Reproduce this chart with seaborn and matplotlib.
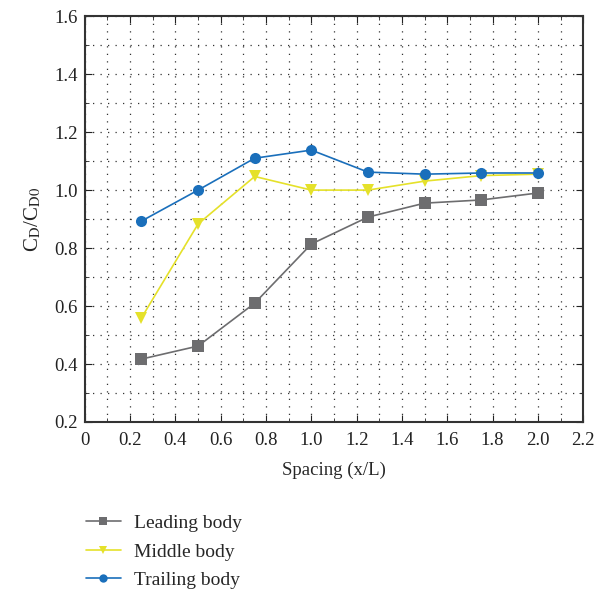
import numpy as np
import pandas as pd
import matplotlib
matplotlib.use("Agg")
import matplotlib.pyplot as plt
import seaborn as sns
from matplotlib.ticker import MultipleLocator, FuncFormatter
from matplotlib.lines import Line2D

spacing = [0.25, 0.5, 0.75, 1.0, 1.25, 1.5, 1.75, 2.0]
leading = [0.417, 0.462, 0.61, 0.814, 0.907, 0.955, 0.966, 0.99]
middle = [0.559, 0.883, 1.047, 1.0, 1.0, 1.031, 1.05, 1.055]
trailing = [0.893, 1.0, 1.11, 1.138, 1.062, 1.055, 1.059, 1.059]
series_names = ["Leading body", "Middle body", "Trailing body"]

df = pd.DataFrame({
    "x": spacing * 3,
    "y": leading + middle + trailing,
    "series": [n for n in series_names for _ in spacing],
})

sns.set_style("ticks")
plt.rcParams["font.family"] = ["Liberation Serif", "DejaVu Serif"]
plt.rcParams["mathtext.fontset"] = "stix"

colors = {"Leading body": "#6d6d6f", "Middle body": "#e5e12a", "Trailing body": "#1a6fbb"}
markers = {"Leading body": "s", "Middle body": "v", "Trailing body": "o"}

fig = plt.figure(figsize=(5.97, 5.99), dpi=100)
ax = fig.add_axes([0.142, 0.2955, 0.835, 0.6775])

sns.lineplot(data=df, x="x", y="y", hue="series", style="series",
             palette=colors, markers=markers, dashes=False, ax=ax,
             linewidth=1.2, markersize=8, markeredgewidth=0, legend=False)

ax.set_xlim(0, 2.2)
ax.set_ylim(0.2, 1.6)
ax.xaxis.set_major_locator(MultipleLocator(0.2))
ax.xaxis.set_minor_locator(MultipleLocator(0.1))
ax.yaxis.set_major_locator(MultipleLocator(0.2))
ax.yaxis.set_minor_locator(MultipleLocator(0.1))
ax.xaxis.set_major_formatter(FuncFormatter(lambda v, p: "0" if abs(v) < 1e-9 else f"{v:.1f}"))
ax.yaxis.set_major_formatter(FuncFormatter(lambda v, p: f"{v:.1f}"))
ax.grid(which="both", linestyle=(0, (1, 5)), color="#333333", linewidth=0.9)
ax.tick_params(which="both", direction="in", top=True, right=True, labelsize=13.5, colors="#222222")
ax.tick_params(which="major", length=5, pad=5)
ax.tick_params(axis="x", which="major", pad=7)
ax.tick_params(which="minor", length=3)
for s in ax.spines.values():
    s.set_color("#333333")
    s.set_linewidth(1.5)

ax.set_xlabel("Spacing (x/L)", fontsize=13.5, labelpad=9)
ax.set_ylabel(r"C$_\mathrm{D}$/C$_\mathrm{D0}$", fontsize=15, labelpad=8)

handles = [Line2D([], [], color=colors[n], marker=markers[n], markersize=6,
                  markeredgewidth=0, linewidth=1.2) for n in series_names]
fig.legend(handles, series_names, loc="upper left", bbox_to_anchor=(0.127, 0.157),
           frameon=False, fontsize=14, handlelength=1.8, handletextpad=0.67,
           labelspacing=0.55, borderpad=0)

fig.savefig("out.png", dpi=100)
